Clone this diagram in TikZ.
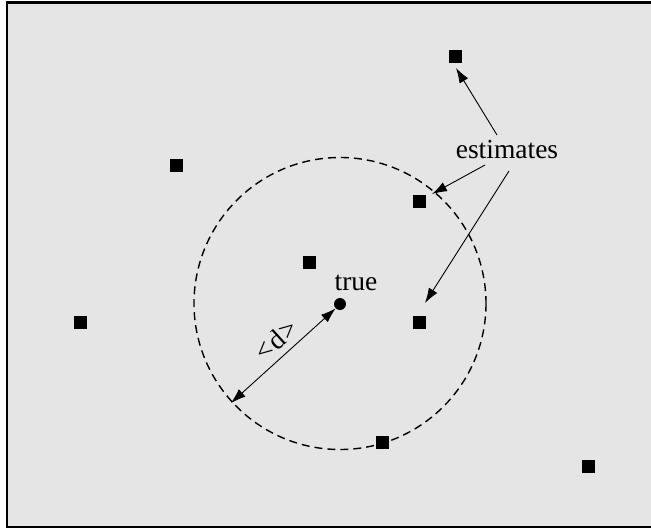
\documentclass[tikz,border=0pt]{standalone}
\usepackage{fontspec}
\setmainfont{Liberation Serif}
\usetikzlibrary{arrows.meta}
\definecolor{bg}{HTML}{E5E5E5}
\begin{document}
\begin{tikzpicture}[x=1pt,y=-1pt,
  est/.style={fill=black,minimum size=13pt,inner sep=0pt,draw=none},
  lbl/.style={font=\fontsize{27.5}{30}\selectfont,inner sep=0pt},
  arr/.style={-{Latex[length=15pt,width=10pt]},line width=0.9pt},
  darr/.style={{Latex[length=15pt,width=10pt]}-{Latex[length=15pt,width=10pt]},line width=0.9pt}]
\useasboundingbox (0,0) rectangle (651,531);
\begin{scope}
\clip (0,0) rectangle (651,531);
\draw[fill=bg,line width=2.2pt] (7,2.5) rectangle (660,527);
\end{scope}
\draw[dashed,line width=1.4pt,dash pattern=on 8pt off 5pt] (340,303.5) circle (146);
\node[est] (s1) at (455,56) {};
\node[est] (s2) at (176.5,165) {};
\node[est] (s3) at (419,201) {};
\node[est] (s4) at (309,262) {};
\node[est] (s5) at (80,322) {};
\node[est] (s6) at (419,322) {};
\node[est] (s7) at (382,442) {};
\node[est] (s8) at (588,466) {};
\node[circle,fill=black,minimum size=12pt,inner sep=0pt] (t) at (340,304) {};
\node[lbl] (tl) at (356,283) {true};
\node[lbl] (el) at (507,150) {estimates};
\coordinate (e1s) at (497,135);
\coordinate (e1t) at (456,68);
\coordinate (e2s) at (485,165);
\coordinate (e2t) at (432,194);
\coordinate (e3s) at (509,171);
\coordinate (e3t) at (425,303);
\draw[arr] (e1s) -- (e1t);
\draw[arr] (e2s) -- (e2t);
\draw[arr] (e3s) -- (e3t);
\coordinate (dc) at (231,403);
\draw[darr] (dc) -- (t.225);
\node[lbl,rotate=42] (dl) at (276,340) {<\kern1pt d\kern1pt>};
\end{tikzpicture}
\end{document}
